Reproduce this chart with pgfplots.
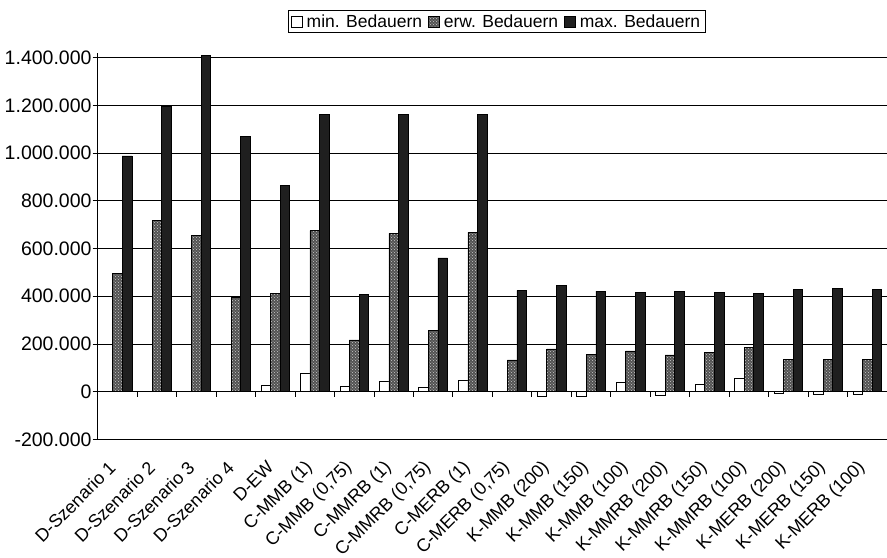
\documentclass[border=0pt]{standalone}
\usepackage{fontspec}
\setmainfont{Liberation Sans}
\usepackage{pgfplots}
\pgfplotsset{compat=1.18}
\usepackage{pgfplotstable}
\usetikzlibrary{patterns}

\pgfplotstableread{
x minb erwb maxb
0 0 496000 988000
1 0 719000 1198000
2 0 655000 1411000
3 0 395000 1070000
4 25000 412000 866000
5 76000 675000 1163000
6 21000 217000 408000
7 42000 664000 1163000
8 18000 256000 561000
9 46000 668000 1163000
10 0 133000 425000
11 -18000 179000 447000
12 -18000 157000 421000
13 40000 171000 415000
14 -15000 154000 421000
15 33000 165000 416000
16 55000 186000 412000
17 -8000 136000 429000
18 -9000 136000 432000
19 -9000 136000 429000
}\datatable

\begin{document}
\begin{tikzpicture}
\begin{axis}[
  scale only axis, width=789.3pt, height=386.5pt,
  ybar=0pt, bar width=9.6pt,
  xmin=-0.5, xmax=19.5, ymin=-200000, ymax=1420000,
  axis lines*=left,
  axis line style={black, line width=0.8pt},
  xtick=data,
  xticklabels={D-Szenario 1, D-Szenario 2, D-Szenario 3, D-Szenario 4, D-EW,
    C-MMB (1), {C-MMB (0,75)}, C-MMRB (1), {C-MMRB (0,75)}, C-MERB (1), {C-MERB (0,75)},
    K-MMB (200), K-MMB (150), K-MMB (100), K-MMRB (200), K-MMRB (150), K-MMRB (100),
    K-MERB (200), K-MERB (150), K-MERB (100)},
  x tick style={draw=none},
  xticklabel style={xshift=-5pt, yshift=-20pt, rotate=45, anchor=east, inner sep=0pt,
    font=\fontsize{18}{21}\selectfont},
  ytick={-200000,0,200000,400000,600000,800000,1000000,1200000,1400000},
  y tick style={black, line width=0.8pt},
  tick align=outside, major tick length=5pt,
  yticklabel style={font=\fontsize{19.5}{22}\selectfont, inner sep=1pt},
  scaled y ticks=false,
  /pgf/number format/.cd, fixed, 1000 sep={.}, assume math mode=true,
  /pgfplots/.cd,
  ymajorgrids, grid style={black, line width=0.8pt},
  legend columns=3,
  legend style={at={(0.5054,1.0515)}, anchor=south, draw=black, line width=0.8pt,
    font=\fontsize{17.5}{20}\selectfont, inner xsep=3pt, inner ysep=2pt,
    /tikz/every even column/.append style={column sep=4pt}},
  legend image code/.code={\draw[#1,line width=0.7pt] (0pt,-5.5pt) rectangle (11pt,5.5pt);
    \path (13pt,0pt);},
  legend cell align=left,
]
\addplot[draw=black, line width=0.6pt, fill=white] table[x=x, y=minb] {\datatable};
\addplot[draw=black, line width=0.6pt, fill=black!68,
  postaction={pattern=crosshatch dots, pattern color=white!80!black}] table[x=x, y=erwb] {\datatable};
\addplot[draw=black, line width=0.6pt, fill=black!88] table[x=x, y=maxb] {\datatable};
\legend{min. Bedauern, erw. Bedauern, max. Bedauern}
\draw[black, line width=0.9pt] (axis cs:-0.5,0) -- (axis cs:19.5,0);
\pgfplotsinvokeforeach{0.5,1.5,2.5,3.5,4.5,5.5,6.5,7.5,8.5,9.5,10.5,11.5,12.5,13.5,14.5,15.5,16.5,17.5,18.5}{
  \draw[black, line width=0.8pt] (axis cs:#1,0) -- ([yshift=-5pt]axis cs:#1,0);
}
\end{axis}
\pgfresetboundingbox
\path ([xshift=-97.7pt,yshift=-117.7pt]current axis.south west) rectangle ([yshift=52.9pt]current axis.north east);
\end{tikzpicture}
\end{document}
